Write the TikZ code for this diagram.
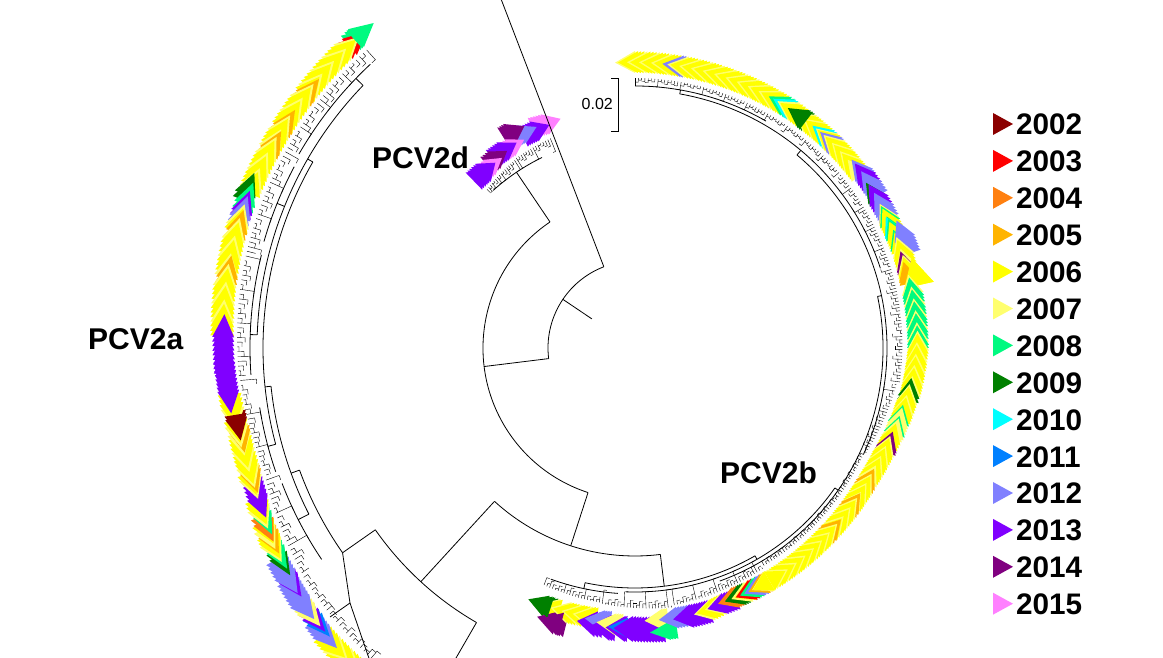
\documentclass[tikz,border=0pt]{standalone}
\usepackage{fontspec}
\setmainfont{Liberation Sans}
\definecolor{y02}{RGB}{139,0,0}
\definecolor{y03}{RGB}{255,0,0}
\definecolor{y04}{RGB}{255,128,16}
\definecolor{y05}{RGB}{255,180,0}
\definecolor{y06}{RGB}{255,255,0}
\definecolor{y07}{RGB}{255,255,110}
\definecolor{y08}{RGB}{0,250,128}
\definecolor{y09}{RGB}{0,128,0}
\definecolor{y10}{RGB}{0,255,255}
\definecolor{y11}{RGB}{0,128,255}
\definecolor{y12}{RGB}{128,128,255}
\definecolor{y13}{RGB}{128,0,255}
\definecolor{y14}{RGB}{128,0,128}
\definecolor{y15}{RGB}{255,128,255}
% band of tip markers: t1,t2,colA,colB,r1,r2,delta,w  (drawn from t1 to t2)
\newcommand\mband[8]{%
 \pgfmathtruncatemacro\zN{max(1,round(abs(#2-#1)/0.6))}%
 \foreach \i in {0,...,\zN}{%
   \pgfmathsetmacro\zT{#1+(#2-#1)*\i/\zN}%
   \pgfmathsetmacro\zR{#5+(#6-#5)*\i/\zN}%
   \pgfmathsetmacro\zA{\zT+(#7)}%
   \pgfmathsetmacro\zO{\zR+#8}%
   \pgfmathsetmacro\zM{\zR+#8/2}%
   \pgfmathtruncatemacro\zC{mod(\i,4)}%
   \ifnum\zC=0 \def\zK{#4}\else\def\zK{#3}\fi
   \fill[\zK] ([shift={(\zT:\zR pt)}]C) -- ([shift={(\zT:\zO pt)}]C) -- ([shift={(\zA:\zM pt)}]C) -- cycle;
 }}
\newcommand\Bk[6]{\mband{#1}{#2}{#3}{#3}{#4}{#5}{\dd}{#6}}
\newcommand\Yb[4]{\mband{#1}{#2}{y06}{y07}{#3}{#4}{\dd}{\ww}}
\newcommand\Gm[6]{\mband{#1}{#2}{#3}{#4}{#5}{#6}{\dd}{\ww}}
% single solid marker on top: angle, colour, r0, delta, w
\newcommand\solid[5]{\fill[#2] ([shift={(#1:#3pt)}]C) -- ([shift={(#1:#3pt+#5pt)}]C) -- ([shift={(#1+#4:#3pt+#5pt/2)}]C) -- cycle;}
% tip fringe: t1,t2,r1,r2,maxlen,base
\newcommand\fringe[6]{%
 \pgfmathtruncatemacro\zN{max(1,round(abs(#2-#1)/0.7))}%
 \pgfmathsetmacro\zS{(#2-#1)/\zN}%
 \foreach \i in {0,...,\zN}{%
   \pgfmathsetmacro\zT{#1+\zS*\i}%
   \pgfmathsetmacro\zR{#3+(#4-#3)*\i/\zN}%
   \pgfmathsetmacro\zQ{\zR-1.5-#5*frac(\zT*3.77)}%
   \pgfmathtruncatemacro\zC{mod(\i,7)}%
   \ifnum\zC=0 \pgfmathsetmacro\zQ{#6}\fi
   \pgfmathsetmacro\zE{\zT+\zS}%
   \draw[fr] ([shift={(\zT:\zQ pt)}]C) -- ([shift={(\zT:\zR pt)}]C);
   \ifnum\i<\zN \draw[fr] ([shift={(\zT:\zQ pt)}]C) arc[start angle=\zT,end angle=\zE,radius=\zQ pt];\fi
 }}
\newcommand\rad[3]{\draw[br] ([shift={(#1:#2pt)}]C) -- ([shift={(#1:#3pt)}]C);}
\newcommand\arcc[3]{\draw[br] ([shift={(#1:#3pt)}]C) arc[start angle=#1,end angle=#2,radius=#3pt];}
\begin{document}
\begin{tikzpicture}[x=1pt,y=1pt,
  br/.style={line width=0.8pt,black},
  fr/.style={line width=0.4pt,black},
  lab/.style={font=\fontsize{30}{32}\selectfont\bfseries,inner sep=0pt,anchor=base west},
  legtxt/.style={font=\fontsize{29.7}{31}\selectfont\bfseries,inner sep=0pt,anchor=base west},
  sctxt/.style={font=\fontsize{16}{18}\selectfont,inner sep=0pt,anchor=base east}]
\useasboundingbox (0,0) rectangle (1163,658);
\clip (0,0) rectangle (1163,658);
\coordinate (C) at (635,310);

% ---------- PCV2a markers, upper group (pointing clockwise) ----------
\def\dd{-3.2}\def\ww{24}
\Bk{132}{133.3}{y08}{405}{405}{24}
\Bk{133.5}{134.3}{y03}{404}{404}{22}
\Yb{134.8}{142.5}{404}{404}
\Bk{142.8}{143.3}{y05}{404}{404}{22}
\Yb{143.8}{148}{404}{404}
\Bk{148.2}{148.7}{y05}{404}{404}{22}
\Yb{149.2}{151.5}{404}{404}
\Bk{151.7}{152.2}{y05}{404}{404}{22}
\Yb{152.7}{158.2}{404}{404}
\Bk{158.5}{159.3}{y09}{408}{408}{22}
\Bk{159.8}{160.6}{y08}{405}{405}{22}
\Bk{161}{161.6}{y13}{405}{405}{22}
\Bk{161.8}{162.5}{y12}{405}{405}{22}
\Yb{163}{163.6}{404}{404}
\Bk{163.8}{164.6}{y05}{404}{404}{22}
\Yb{165}{170}{404}{403}
\Bk{170.3}{171}{y05}{403}{403}{22}
\Yb{171.5}{178.3}{403}{401}
\Bk{178.5}{183.5}{y13}{401}{400}{22}
% ---------- PCV2a markers, lower group (pointing anticlockwise) ----------
\def\dd{3.2}
\Yb{236}{222.5}{414}{412}
\Bk{222}{220.3}{y12}{412}{411}{22}
\Bk{220.2}{219.5}{y11}{410}{410}{20}
\Bk{219.3}{218.5}{y13}{410}{410}{20}
\Bk{218.3}{217.2}{y07}{409}{409}{22}
\Bk{217}{213.7}{y12}{408}{406}{24}
\Bk{213.5}{213}{y13}{405}{405}{22}
\Bk{212.8}{210.5}{y12}{405}{404}{24}
\Bk{210.2}{209.4}{y09}{403}{403}{20}
\Bk{209.2}{208.5}{y08}{402}{402}{20}
\Yb{208}{207}{401}{400}
\Bk{206.8}{206.2}{y05}{400}{400}{22}
\Yb{206}{205.2}{400}{399}
\Bk{205}{204.2}{y04}{399}{399}{22}
\Bk{204}{203.2}{y08}{398}{398}{20}
\Yb{203}{201.8}{397}{396}
\Bk{201.5}{199}{y13}{395}{394}{22}
\Yb{198.6}{198}{394}{394}
\Bk{197.8}{197.3}{y05}{393}{393}{22}
\Yb{197}{192.2}{393}{393}
\Bk{191.8}{191.3}{y05}{393}{393}{22}
\Yb{191}{190.3}{394}{394}
\Bk{190}{189}{y02}{394}{394}{22}
\Yb{188.5}{186.5}{395}{396}
\Bk{186}{182}{y13}{398}{400}{22}
\solid{189.5}{y02}{394}{3.2}{22}
\solid{132.3}{y08}{405}{-3.2}{24}

% ---------- PCV2d markers ----------
\def\dd{-4}
\Bk{112}{115}{y15}{230}{232}{22}
\Bk{115}{118}{y13}{228}{228}{22}
\Bk{118}{121}{y12}{232}{232}{20}
\Bk{120.5}{122}{y14}{236}{236}{24}
\Bk{122}{124}{y15}{226}{226}{20}
\Bk{124}{127}{y13}{226}{226}{22}
\Bk{127}{129}{y14}{224}{224}{22}
\Bk{129}{131}{y15}{222}{222}{20}
\Bk{131}{134}{y13}{220}{220}{24}

% ---------- PCV2b markers, upper group (pointing anticlockwise) ----------
\def\dd{4}\def\ww{22}
\Yb{450}{441}{275}{274.5}
\Bk{440.5}{440}{y12}{274.5}{274.5}{22}
\Yb{439.5}{418.5}{274.5}{274}
\Bk{418}{417.3}{y08}{274}{274}{22}
\Bk{417}{416.5}{y10}{274}{274}{22}
\Yb{416}{414}{274}{273.5}
\Bk{413.5}{412.5}{y09}{273.5}{273.5}{22}
\Yb{412}{408}{273.5}{273.5}
\Bk{407.4}{406.8}{y10}{273.5}{273.5}{22}
\Yb{406.5}{405.6}{273.5}{273.5}
\Bk{405.4}{405}{y12}{273.5}{273.5}{22}
\Yb{404.5}{397.5}{273.5}{273}
\Bk{397}{396}{y12}{276}{276}{22}
\Bk{396}{394}{y13}{276}{276}{22}
\Bk{394}{392}{y12}{276}{276}{22}
\Bk{391.6}{391}{y09}{274}{274}{20}
\Bk{391}{389}{y13}{274}{274}{22}
\Bk{389}{387}{y12}{274}{274}{22}
\Yb{386.5}{386}{273}{273}
\Gm{386}{383.6}{y06}{y08}{273}{273}
\Bk{383.6}{383}{y10}{273}{273}{20}
\Gm{383}{380}{y06}{y08}{273}{273}
\Bk{382}{379}{y12}{280}{280}{22}
\Yb{379}{376.5}{273}{272.5}
\Bk{376}{375.5}{y14}{272.5}{272.5}{20}
\Yb{375.2}{374.2}{272.5}{272.5}
\Bk{373.8}{373.2}{y05}{272}{272}{20}
\mband{372.5}{372.5}{y06}{y06}{276}{276}{5.5}{30}
\Gm{371}{360}{y08}{y07}{272}{272}
\Yb{359.5}{350.2}{272}{268}
\Bk{349.8}{349}{y09}{267}{267}{22}
\Yb{348.5}{344.5}{266}{264}
\Gm{344}{341}{y07}{y08}{263}{262}
\Yb{340.5}{338.5}{261}{260}
\Bk{338}{337.5}{y14}{260}{260}{22}
\Yb{337}{330}{259}{257}
\Bk{329.2}{328.5}{y05}{257}{257}{22}
\Yb{328}{323.5}{257}{257}
\Bk{323.2}{322.5}{y05}{257}{257}{22}
\Yb{322}{316.5}{257}{257}
\Bk{316.2}{315.5}{y05}{257}{257}{22}
\Yb{315}{300}{257}{258}
% ---------- PCV2b markers, lower group (pointing clockwise) ----------
\def\dd{-4}
\Bk{251}{253}{y09}{262}{262}{22}
\Yb{253.5}{254}{262}{262}
\Bk{254}{256}{y14}{274}{274}{24}
\Yb{256}{262}{262}{262}
\Bk{262}{263.4}{y13}{266}{266}{26}
\Bk{263.5}{265}{y12}{264}{264}{22}
\Bk{265}{266}{y13}{268}{268}{26}
\Bk{266}{267.5}{y07}{266}{266}{22}
\Bk{268}{268.4}{y13}{268}{268}{26}
\Bk{268.5}{269.5}{y11}{270}{270}{20}
\Bk{269.6}{276}{y13}{268}{270}{26}
\Bk{276}{277}{y07}{262}{262}{22}
\Bk{277}{278.5}{y08}{276}{276}{18}
\Bk{279}{282}{y12}{262}{262}{22}
\Bk{282}{286}{y13}{262}{262}{24}
\Yb{286.5}{289}{262}{260}
\Bk{289.5}{292}{y13}{260}{260}{22}
\Bk{292}{293.5}{y04}{258}{258}{22}
\Bk{293.5}{294.5}{y09}{258}{258}{22}
\Yb{295}{295.8}{258}{258}
\Bk{296}{296.6}{y03}{258}{258}{22}
\Bk{297}{297.6}{y08}{258}{258}{22}
\Bk{298}{298.6}{y12}{258}{258}{22}
\Bk{299}{299.6}{y05}{258}{258}{22}
\Yb{299.8}{300}{258}{258}
\solid{413}{y09}{273.5}{4}{22}
\solid{252}{y09}{262}{-4}{22}
\solid{255}{y14}{274}{-4}{24}

% ---------- tip fringes ----------
\fringe{132}{150}{401}{401}{9}{388}
\fringe{150.7}{166}{401}{400}{9}{386}
\fringe{166.7}{184}{400}{397}{8}{385}
\fringe{184.7}{199}{396}{390}{6}{380}
\fringe{199.7}{214}{392}{402}{9}{378}
\fringe{214.7}{236}{403}{409}{6}{398}
\fringe{112}{122}{226}{224}{6}{212}
\fringe{122.7}{133}{223}{217}{6}{212}
\fringe{249}{262}{254}{257}{6}{246}
\fringe{262.7}{278}{258}{262}{6}{244}
\fringe{278.7}{300}{260}{255}{6}{244}
\fringe{300.7}{335}{253}{252}{4}{248}
\fringe{335.7}{352}{254}{264}{6}{252}
\fringe{352.7}{400}{267}{269}{6}{258}
\fringe{400.7}{450}{269}{270}{3}{262}

% ---------- backbone ----------
\rad{146}{52}{87}
\arcc{111}{187}{87}
\rad{111}{87}{420}
\rad{187}{87}{152}
\arcc{124}{252}{152}
\rad{124}{152}{212}
\arcc{116}{132}{212}
\rad{252}{152}{208}
\arcc{227.5}{277}{208}
\rad{277}{208}{240}
\rad{227.5}{208}{317}
\arcc{215}{240}{317}
\rad{240}{317}{430}
\rad{215}{317}{357}
% PCV2b inner
\arcc{258}{300}{240}
\rad{258}{240}{246}
\arcc{250}{266}{246}
\rad{300}{240}{244}
\arcc{268}{325}{244}
\rad{325}{244}{248}
\arcc{290}{372}{248}
\rad{372}{248}{252}
\arcc{335}{410}{252}
\rad{410}{252}{258}
\arcc{378}{440}{258}
\rad{440}{258}{262}
\arcc{420}{450}{262}
% PCV2a inner
\arcc{200}{215}{357}
\rad{200}{357}{366}
\arcc{186}{207}{366}
\rad{186}{366}{372}
\arcc{150}{195}{372}
\rad{150}{372}{378}
\arcc{136}{178}{378}
\rad{207}{366}{378}
\arcc{201}{214}{378}
\rad{195}{372}{380}
\arcc{189}{199}{380}
\rad{178}{378}{385}
\arcc{166}{184}{385}
\rad{136}{378}{388}
\arcc{133}{150}{388}
\rad{158}{378}{386}
\arcc{152}{164}{386}
\coordinate (q1) at ([shift={(215:357pt)}]C);
\coordinate (q2) at (350,55);
\coordinate (q3) at (374,-15);
\coordinate (q4) at (330,41);
\draw[br] (q1) -- (q2) -- (q3);
\draw[br] (q2) -- (q4);

% ---------- clade labels ----------
\node[lab] (la) at (88,308) {PCV2a};
\node[lab] (ld) at (372,489) {PCV2d};
\node[lab] (lb) at (720,174) {PCV2b};

% ---------- scale bar ----------
\coordinate (s1) at (611,580);
\coordinate (s2) at (618,580);
\coordinate (s3) at (618,527);
\coordinate (s4) at (611,527);
\draw[line width=0.8pt] (s1) -- (s2) -- (s3) -- (s4);
\node[sctxt] (sc) at (613,548) {0.02};

% ---------- legend ----------
\foreach \yr/\col [count=\k from 0] in {2002/y02,2003/y03,2004/y04,2005/y05,2006/y06,2007/y07,2008/y08,2009/y09,2010/y10,2011/y11,2012/y12,2013/y13,2014/y14,2015/y15}{
  \pgfmathsetmacro\ly{658-124-36.9*\k}
  \fill[\col] (993,\ly+11) -- (1013,\ly) -- (993,\ly-11) -- cycle;
  \node[legtxt] (L\yr) at (1016,\ly-11) {\yr};
}
\end{tikzpicture}
\end{document}
